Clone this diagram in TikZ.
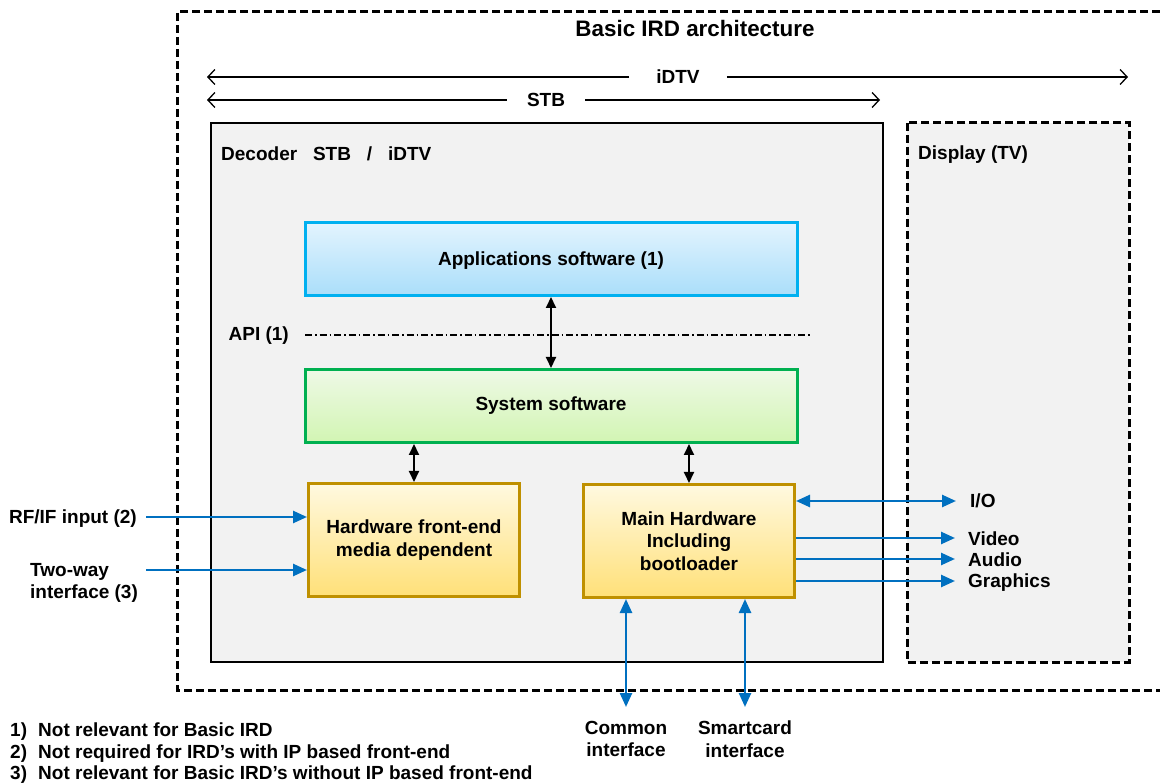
\documentclass[tikz,border=0pt]{standalone}
\usepackage{fontspec}
\setmainfont{Liberation Sans}
\usetikzlibrary{arrows.meta,positioning}

\definecolor{panel}{HTML}{F2F2F2}
\definecolor{appline}{HTML}{00B0F0}
\definecolor{apptop}{HTML}{E3F4FE}
\definecolor{appbot}{HTML}{AADEFA}
\definecolor{sysline}{HTML}{00B050}
\definecolor{systop}{HTML}{EEF9E6}
\definecolor{sysbot}{HTML}{D2F5B3}
\definecolor{hwline}{HTML}{BF9000}
\definecolor{hwtop}{HTML}{FFF9E0}
\definecolor{hwbot}{HTML}{FFE078}
\definecolor{sigblue}{HTML}{0070C0}

\tikzset{
	lbl/.style={inner sep=0pt, font=\bfseries\fontsize{19}{22.5}\selectfont},
	swbox/.style={lbl, line width=3pt, minimum width=492, minimum height=73},
	hwbox/.style={lbl, draw=hwline, line width=3pt, top color=hwtop, bottom color=hwbot, minimum width=211, minimum height=113, align=center},
	link/.style={{Triangle[length=11pt,width=10pt]}-{Triangle[length=11pt,width=10pt]}, line width=2pt},
	sig/.style={-{Triangle[length=14pt,width=12pt]}, draw=sigblue, line width=2.5pt},
	sigboth/.style={sig, {Triangle[length=14pt,width=12pt]}-{Triangle[length=14pt,width=12pt]}},
	span/.style={-{Straight Barb[length=7pt,width=15pt]}, line width=1.3pt},
	frame/.style={line width=3pt, dash pattern=on 8pt off 4pt}
}

\begin{document}
\begin{tikzpicture}[x=1pt, y=-1pt]
	\useasboundingbox (0,0) rectangle (1160,783);

	\draw[frame]	(1160,12) -- (177,12) -- (177,690) -- (1160,690);
	\node[lbl, font=\bfseries\fontsize{22.4}{26}\selectfont] (title) at (695,28) {Basic IRD architecture};

	\coordinate (idtvL) at (207,77);
	\coordinate (idtvR) at (1128,77);
	\node[lbl, inner xsep=27pt] (idtv) at (678,77) {iDTV};
	\draw[span]	(idtv.west) -- (idtvL);
	\draw[span]	(idtv.east) -- (idtvR);

	\coordinate (stbL) at (207,100);
	\coordinate (stbR) at (880,100);
	\node[lbl, inner xsep=20pt] (stb) at (546,100) {STB};
	\draw[span]	(stb.west) -- (stbL);
	\draw[span]	(stb.east) -- (stbR);

	\filldraw[fill=panel, draw=black, line width=2pt]	(211,123) rectangle (883,662);
	\filldraw[fill=panel, frame]	(907,123) rectangle (1129,662);
	\node[lbl, anchor=west] (decoder) at (221,154) {Decoder~~~STB~~~/~~~iDTV};
	\node[lbl, anchor=west] (display) at (918,155) {Display (TV)};

	\node[swbox, draw=appline, top color=apptop, bottom color=appbot, text depth=0pt] (app) at (551,259) {Applications software (1)};
	\node[swbox, draw=sysline, top color=systop, bottom color=sysbot] (sys) at (551,406) {System software};

	\node[lbl, anchor=east] (api) at (289,336) {API (1)};
	\coordinate (apiend) at (810,335);
	\draw[line width=1.2pt, dash pattern=on 7pt off 3pt on 1.5pt off 3pt]	([xshift=16pt]api.east |- apiend) -- (apiend);

	\node[hwbox] (front) at (414,540) {Hardware front-end\\media dependent};
	\node[hwbox] (main) at (689,541) {Main Hardware\\Including\\bootloader};

	\draw[link]	(app.south) -- (sys.north);
	\draw[link]	(front.north |- sys.south) -- (front.north);
	\draw[link]	(main.north |- sys.south) -- (main.north);

	\node[lbl, anchor=east] (rf) at (137,519) {RF/IF input (2)};
	\coordinate (rfin) at (146,517);
	\draw[sig]	(rfin) -- (rfin -| front.west);
	\node[lbl, anchor=north west, align=left] (twoway) at (30,563) {Two-way\\interface (3)};
	\coordinate (twin) at (146,570);
	\draw[sig]	(twin) -- (twin -| front.west);

	\node[lbl, anchor=west] (io) at (970,501) {I/O};
	\node[lbl, anchor=west] (video) at (968,539) {Video};
	\node[lbl, anchor=west] (audio) at (968,560) {Audio};
	\node[lbl, anchor=west] (graphics) at (968,583) {Graphics};
	\draw[sigboth]	(main.east |- io) -- ([xshift=-14pt]io.west);
	\foreach \out/\y in {video/538, audio/559, graphics/581}
		\draw[sig]	(main.east |- 0,\y) -- ([xshift=-13pt]\out.west |- 0,\y);

	\node[lbl, anchor=north, align=center] (common) at (626,721) {Common\\interface};
	\node[lbl, anchor=north, align=center] (smartcard) at (745,721) {Smartcard\\interface};
	\draw[sigboth]	(common.north |- main.south) -- ([yshift=14pt]common.north);
	\draw[sigboth]	(smartcard.north |- main.south) -- ([yshift=14pt]smartcard.north);

	\node[lbl, anchor=west] (note1) at (10,732) {\makebox[28pt][l]{1)}Not relevant for Basic IRD};
	\node[lbl, anchor=west] (note2) at (10,754) {\makebox[28pt][l]{2)}Not required for IRD’s with IP based front-end};
	\node[lbl, anchor=west] (note3) at (10,775) {\makebox[28pt][l]{3)}Not relevant for Basic IRD’s without IP based front-end};
\end{tikzpicture}
\end{document}
